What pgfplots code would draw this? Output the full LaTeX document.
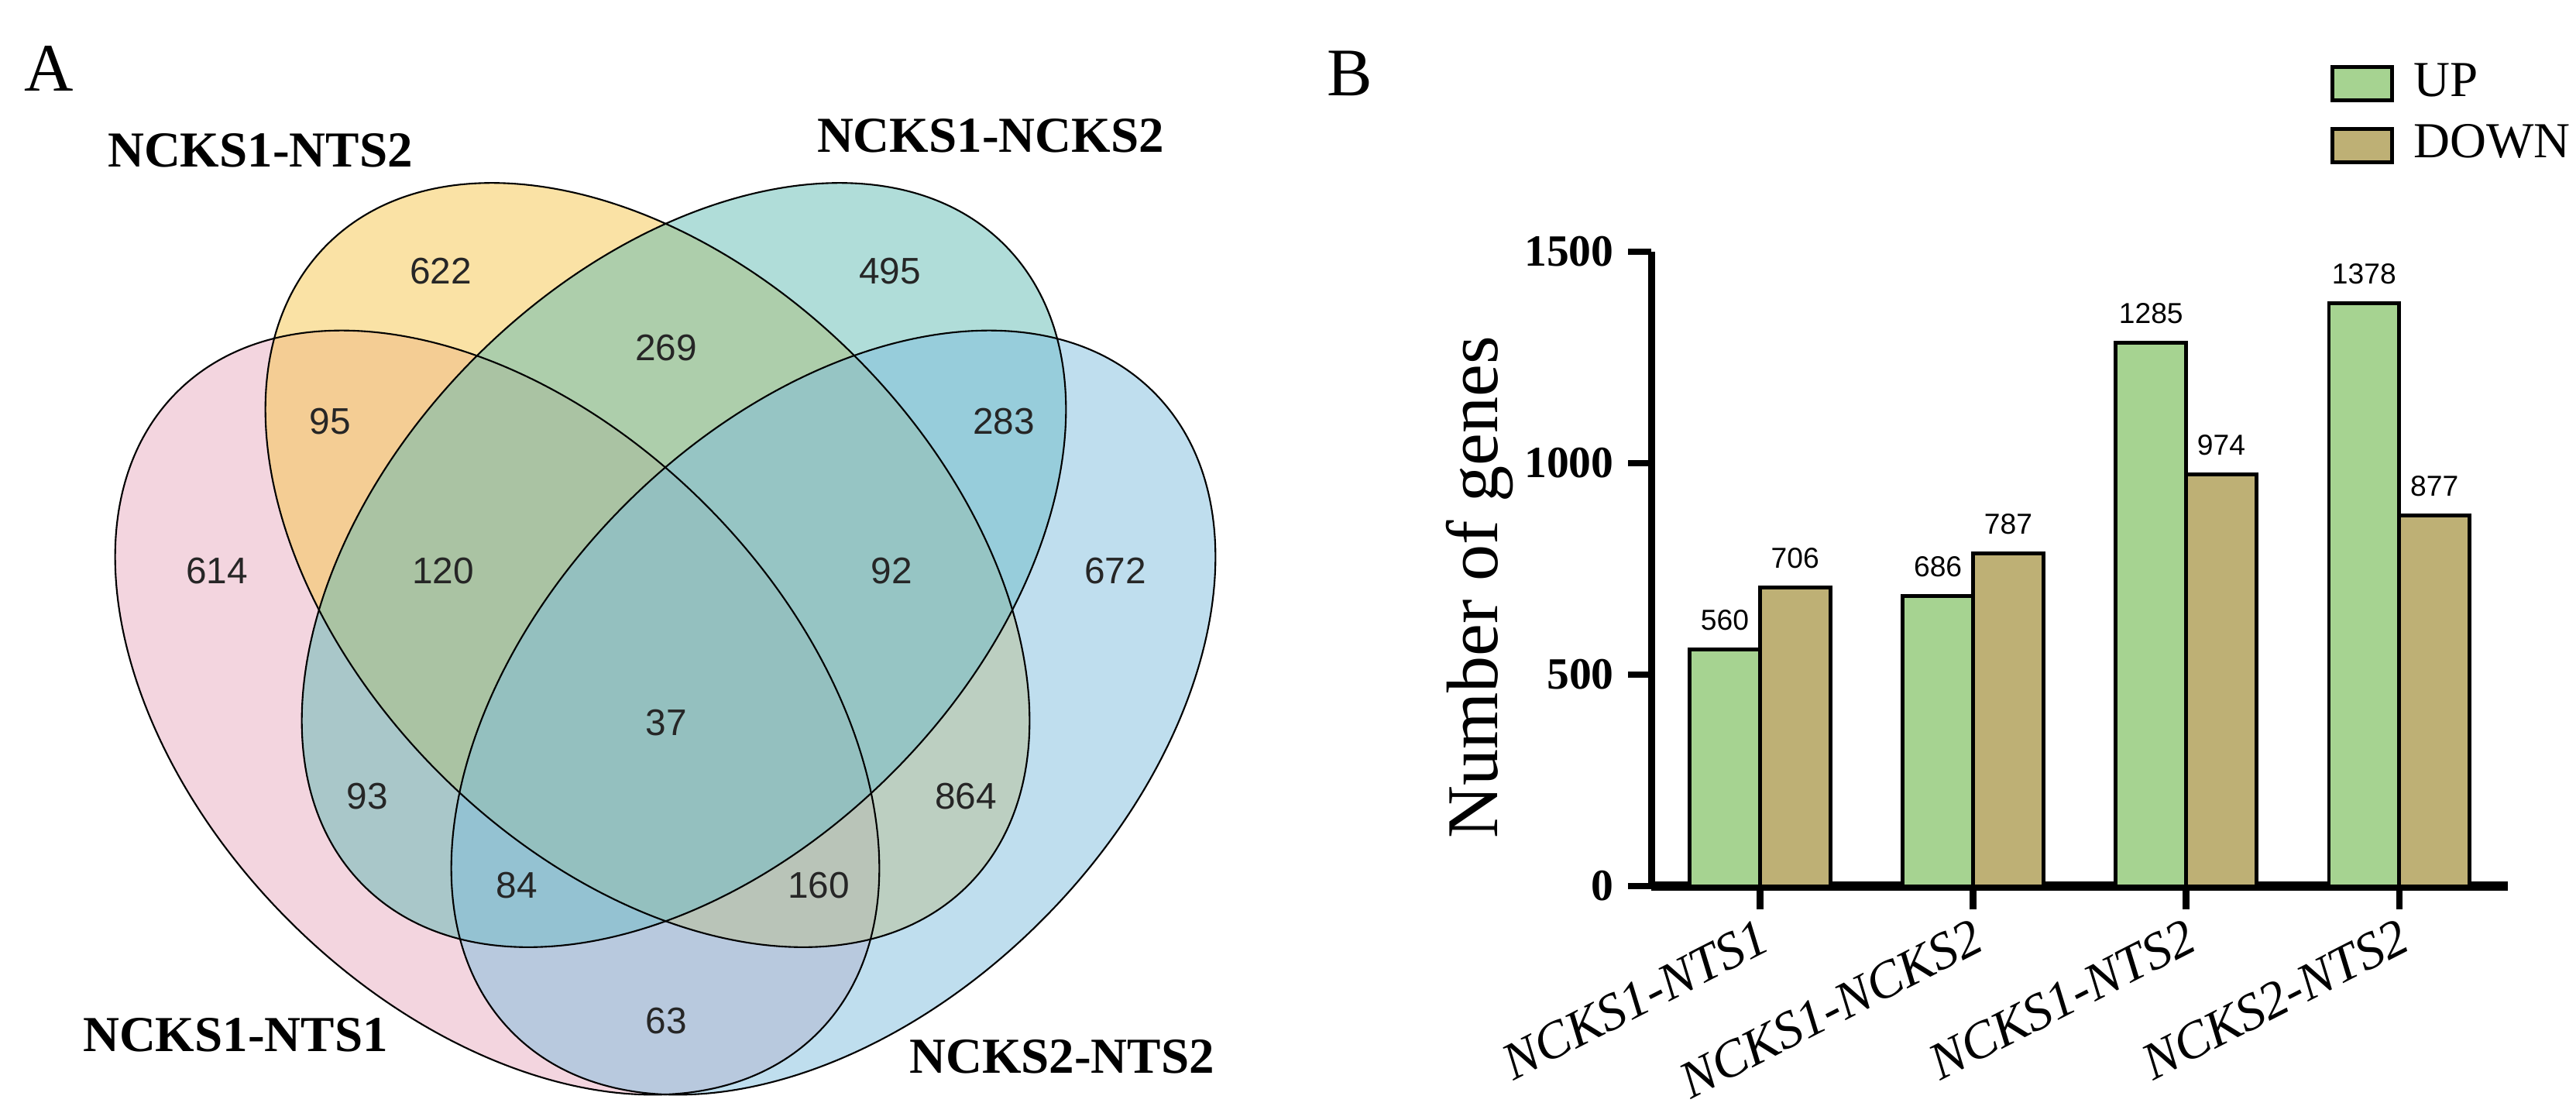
\documentclass[border=0pt]{standalone}
\usepackage{pgfplots}
\pgfplotsset{compat=1.18}
\usepackage{fontspec}
\setmainfont{Liberation Serif}
\newfontfamily\arial{Liberation Sans}
\definecolor{vpink}{RGB}{231,171,191}
\definecolor{vyellow}{RGB}{245,197,75}
\definecolor{vteal}{RGB}{97,187,179}
\definecolor{vblue}{RGB}{127,189,221}
\definecolor{barup}{RGB}{166,211,145}
\definecolor{bardown}{RGB}{190,176,117}
\pgfplotstableread{
x y label
569 350 622
1149 350 495
860 449 269
426 544 95
1296 544 283
280 737 614
572 737 120
1151 737 92
1440 737 672
860 933 37
474 1028 93
1247 1028 864
667 1143 84
1057 1143 160
860 1318 63
}\venncounts
\begin{document}
\begin{tikzpicture}
\begin{axis}[name=venn, at={(0,0)}, anchor=south west,
  x=0.05mm, y=0.05mm, xmin=0, xmax=3326, ymin=0, ymax=1445,
  y dir=reverse, hide axis, clip=false]
% fills
\fill[vpink, fill opacity=0.5, rotate around={-45:(axis cs:642,920)}] (axis cs:642,920) ellipse [x radius=29.25mm, y radius=19mm];
\fill[vyellow, fill opacity=0.5, rotate around={-45:(axis cs:836,729.5)}] (axis cs:836,729.5) ellipse [x radius=29.25mm, y radius=19mm];
\fill[vteal, fill opacity=0.5, rotate around={45:(axis cs:883,729.5)}] (axis cs:883,729.5) ellipse [x radius=29.25mm, y radius=19mm];
\fill[vblue, fill opacity=0.5, rotate around={45:(axis cs:1076,920)}] (axis cs:1076,920) ellipse [x radius=29.25mm, y radius=19mm];
% outlines
\draw[black, line width=0.3pt, rotate around={-45:(axis cs:642,920)}] (axis cs:642,920) ellipse [x radius=29.25mm, y radius=19mm];
\draw[black, line width=0.3pt, rotate around={-45:(axis cs:836,729.5)}] (axis cs:836,729.5) ellipse [x radius=29.25mm, y radius=19mm];
\draw[black, line width=0.3pt, rotate around={45:(axis cs:883,729.5)}] (axis cs:883,729.5) ellipse [x radius=29.25mm, y radius=19mm];
\draw[black, line width=0.3pt, rotate around={45:(axis cs:1076,920)}] (axis cs:1076,920) ellipse [x radius=29.25mm, y radius=19mm];
\addplot[draw=none, nodes near coords, point meta=explicit symbolic,
  every node near coord/.style={anchor=center, inner sep=0pt, font=\arial\fontsize{6.8}{7}\selectfont, text=black!85}]
  table[x=x, y=y, meta=label] {\venncounts};
\node[font=\fontsize{9.25}{10}\selectfont\bfseries] at (axis cs:336,194) {NCKS1-NTS2};
\node[font=\fontsize{9.25}{10}\selectfont\bfseries] at (axis cs:1279,175) {NCKS1-NCKS2};
\node[font=\fontsize{9.25}{10}\selectfont\bfseries] at (axis cs:304,1336) {NCKS1-NTS1};
\node[font=\fontsize{9.25}{10}\selectfont\bfseries] at (axis cs:1371,1364) {NCKS2-NTS2};
\node[font=\fontsize{12.5}{13}\selectfont] at (axis cs:63,88) {A};
\node[font=\fontsize{12.5}{13}\selectfont] at (axis cs:1743,95) {B};
\end{axis}
\begin{axis}[at={(venn.south west)}, anchor=south west, xshift=106.6mm, yshift=15.05mm,
  scale only axis, width=55.3mm, height=40.95mm,
  ybar,
  xmin=-0.51, xmax=3.51, ymin=0, ymax=1500,
  axis x line*=bottom, axis y line*=left,
  x axis line style={line width=1.8pt, -},
  y axis line style={line width=1.3pt, -},
  xtick={0,1,2,3},
  xticklabels={NCKS1-NTS1,NCKS1-NCKS2,NCKS1-NTS2,NCKS2-NTS2},
  ytick={0,500,1000,1500},
  tick align=outside, major tick length=1.5mm,
  tick style={line width=1.2pt, black},
  /pgf/number format/assume math mode=true,
  /pgf/number format/1000 sep={},
  yticklabel style={font=\fontsize{8.2}{8.5}\selectfont\bfseries, inner sep=1pt, xshift=-0.5mm},
  xticklabel style={font=\fontsize{9.6}{10}\selectfont\itshape, rotate=27, anchor=north east, inner sep=1pt},
  ylabel={Number of genes},
  every axis y label/.style={at={(axis description cs:-0.2007,0.471)}, rotate=90, anchor=center, font=\fontsize{13.4}{14}\selectfont},
  legend style={at={(axis description cs:0.792,1.316)}, anchor=north west, draw=none, fill=none,
    inner sep=0pt, row sep=-0.1mm, font=\fontsize{9.25}{10}\selectfont,
    /tikz/every even column/.append style={column sep=0mm}},
  legend cell align=left,
  legend image code/.code={\draw[#1, line width=0.7pt] (0mm,-1.07mm) rectangle (3.85mm,1.07mm);},
  bar width=0.33,
  nodes near coords,
  every node near coord/.append style={font=\arial\fontsize{5.3}{5.5}\selectfont, inner sep=0pt, yshift=1.1mm},
  clip=false]
\addplot[bar shift=-0.165, fill=barup, draw=black, line width=0.7pt] coordinates {(0,560) (1,686) (2,1285) (3,1378)};
\addlegendentry{\,UP}
\addplot[bar shift=0.165, fill=bardown, draw=black, line width=0.7pt] coordinates {(0,706) (1,787) (2,974) (3,877)};
\addlegendentry{\,DOWN}
\end{axis}
\pgfresetboundingbox
\path (venn.south west) rectangle (venn.north east);
\end{tikzpicture}
\end{document}
